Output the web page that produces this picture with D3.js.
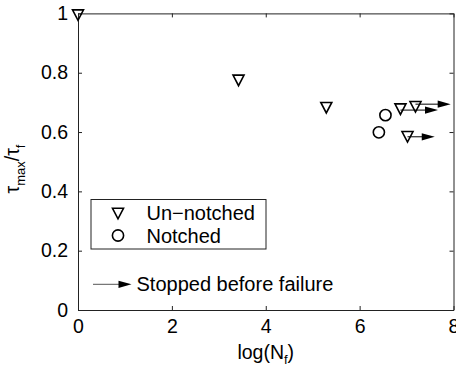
<!DOCTYPE html>
<html>
<head>
<meta charset="utf-8">
<script src="https://cdn.jsdelivr.net/npm/d3@7"></script>
<style>
  body { margin: 0; background: #fff; }
  text { font-family: "Liberation Sans", Arial, sans-serif; fill: #000; }
</style>
</head>
<body>
<div id="chart"></div>
<script>
// chart size
const width = 456;
const height = 365;

// data
const unnotchedX = [0, 3.42, 5.29, 6.87, 7.19, 7.02];
const unnotchedY = [1.0, 0.78, 0.688, 0.683, 0.691, 0.590];
const notchedX = [6.41, 6.55];
const notchedY = [0.599, 0.657];
// run-outs (stopped before failure)
const runoutStartX = [6.87, 7.19, 7.02];
const runoutEndX = [7.67, 7.94, 7.60];
const runoutY = [0.674, 0.694, 0.584];

const xTicks = [0, 2, 4, 6, 8];
const yTicks = [0, 0.2, 0.4, 0.6, 0.8, 1];

const fontSize = 19.5;
const legendFont = 20;

const svg = d3.select("#chart")
  .append("svg")
    .attr("width", width)
    .attr("height", height);

// scales
const x = d3.scaleLinear().domain([0, 8]).range([78, 453.5]);
const y = d3.scaleLinear().domain([0, 1]).range([310, 13.4]);

// axes box, MATLAB style with inward ticks on all four sides
const tickLen = 4;
svg.append("g")
  .attr("transform", `translate(0,${y(0)})`)
  .call(d3.axisBottom(x).tickValues(xTicks).tickSizeInner(-tickLen).tickSizeOuter(0).tickPadding(9).tickFormat(d3.format("d")))
  .call(g => g.selectAll("text").attr("font-size", fontSize).attr("font-family", null));
svg.append("g")
  .attr("transform", `translate(0,${y(1)})`)
  .call(d3.axisTop(x).tickValues(xTicks).tickSizeInner(-tickLen).tickSizeOuter(0).tickFormat(""));
svg.append("g")
  .attr("transform", `translate(${x(0)},0)`)
  .call(d3.axisLeft(y).tickValues(yTicks).tickSizeInner(-tickLen).tickSizeOuter(0).tickPadding(10).tickFormat(d => d3.format("")(d)))
  .call(g => g.selectAll("text").attr("font-size", fontSize).attr("font-family", null));
svg.append("g")
  .attr("transform", `translate(${x(8)},0)`)
  .call(d3.axisRight(y).tickValues(yTicks).tickSizeInner(-tickLen).tickSizeOuter(0).tickFormat(""));

svg.selectAll(".domain, .tick line").attr("stroke", "#222");
svg.selectAll("text").attr("fill", "#000");

// triangle marker, centroid at data point
const triW = 11, triH = 10.5;
const triPath = `M${-triW / 2},${-triH / 3}L${triW / 2},${-triH / 3}L0,${2 * triH / 3}Z`;

// run-out arrows
const arrows = runoutY.map((v, i) => ({ x0: runoutStartX[i], x1: runoutEndX[i], y: v }));
const headLen = 13, headHalf = 3.6;
svg.append("g").selectAll("line")
  .data(arrows)
  .join("line")
    .attr("x1", d => x(d.x0))
    .attr("x2", d => x(d.x1) - headLen + 1)
    .attr("y1", d => y(d.y))
    .attr("y2", d => y(d.y))
    .attr("stroke", "#000")
    .attr("stroke-width", 1);
svg.append("g").selectAll("path")
  .data(arrows)
  .join("path")
    .attr("d", d => `M${x(d.x1)},${y(d.y)}L${x(d.x1) - headLen},${y(d.y) - headHalf}L${x(d.x1) - headLen},${y(d.y) + headHalf}Z`)
    .attr("fill", "#000");

// un-notched points
svg.append("g").selectAll("path")
  .data(unnotchedX.map((v, i) => [v, unnotchedY[i]]))
  .join("path")
    .attr("transform", d => `translate(${x(d[0])},${y(d[1])})`)
    .attr("d", triPath)
    .attr("fill", "none")
    .attr("stroke", "#000")
    .attr("stroke-width", 1.6);

// notched points
svg.append("g").selectAll("circle")
  .data(notchedX.map((v, i) => [v, notchedY[i]]))
  .join("circle")
    .attr("cx", d => x(d[0]))
    .attr("cy", d => y(d[1]))
    .attr("r", 5.6)
    .attr("fill", "none")
    .attr("stroke", "#000")
    .attr("stroke-width", 1.6);

// legend
const legend = svg.append("g");
legend.append("rect")
  .attr("x", 91).attr("y", 199.5)
  .attr("width", 175).attr("height", 49.5)
  .attr("fill", "#fff")
  .attr("stroke", "#222")
  .attr("stroke-width", 1);
legend.append("path")
  .attr("transform", "translate(118,211.8)")
  .attr("d", triPath)
  .attr("fill", "none").attr("stroke", "#000").attr("stroke-width", 1.6);
legend.append("circle")
  .attr("cx", 118).attr("cy", 235.5).attr("r", 5.6)
  .attr("fill", "none").attr("stroke", "#000").attr("stroke-width", 1.6);
legend.append("text").attr("x", 146.5).attr("y", 219.5).attr("font-size", legendFont).text("Un\u2212notched");
legend.append("text").attr("x", 146.5).attr("y", 242.8).attr("font-size", legendFont).text("Notched");

// run-out legend entry
legend.append("line")
  .attr("x1", 93).attr("x2", 120).attr("y1", 284.3).attr("y2", 284.3)
  .attr("stroke", "#555").attr("stroke-width", 1);
legend.append("path")
  .attr("d", `M131.5,284.3L${131.5 - headLen},${284.3 - headHalf}L${131.5 - headLen},${284.3 + headHalf}Z`)
  .attr("fill", "#000");
legend.append("text").attr("x", 136.5).attr("y", 290.5).attr("font-size", legendFont).text("Stopped before failure");

// x label
const xl = svg.append("text")
  .attr("x", (x(0) + x(8)) / 2)
  .attr("y", 358.5)
  .attr("text-anchor", "middle")
  .attr("font-size", fontSize);
xl.append("tspan").text("log(N");
xl.append("tspan").attr("font-size", 13).attr("dy", 5).text("f");
xl.append("tspan").attr("dy", -5).text(")");

// y label
const yl = svg.append("text")
  .attr("transform", "translate(19,169) rotate(-90)")
  .attr("text-anchor", "middle")
  .attr("font-size", fontSize);
yl.append("tspan").text("\u03c4");
yl.append("tspan").attr("font-size", 13).attr("dy", 6).text("max");
yl.append("tspan").attr("dy", -6).text("/\u03c4");
yl.append("tspan").attr("font-size", 13).attr("dy", 6).text("f");
</script>
</body>
</html>
